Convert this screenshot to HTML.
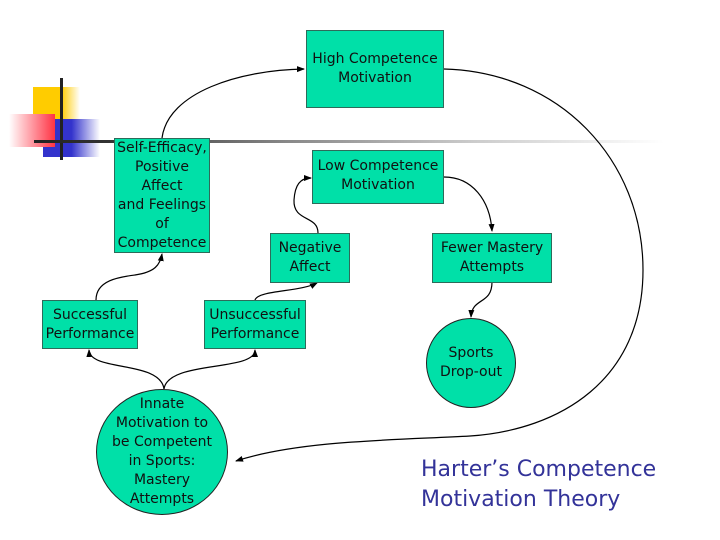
<!DOCTYPE html>
<html><head><meta charset="utf-8"><style>
body{margin:0;width:720px;height:540px;background:#fff;overflow:hidden;position:relative;font-family:"DejaVu Sans","Liberation Sans",sans-serif}
.b{position:absolute;background:#00e0a8;border:1px solid #2d6b5a;box-sizing:border-box;display:flex;align-items:center;justify-content:center;text-align:center;font-size:14px;line-height:19px;color:#111}
.c{border-radius:50%;border-color:#222}
</style></head><body>
<div style="position:absolute;left:33px;top:87px;width:47px;height:32px;background:linear-gradient(90deg,#ffcc00 60%,#fff)"></div>
<div style="position:absolute;left:43px;top:119px;width:57px;height:38px;background:linear-gradient(90deg,#3333cc 50%,#fff)"></div>
<div style="position:absolute;left:9px;top:114px;width:46px;height:33px;background:linear-gradient(90deg,#fff,#ff3344)"></div>
<div style="position:absolute;left:60px;top:78px;width:3px;height:82px;background:#222"></div>
<div style="position:absolute;left:34px;top:140px;width:630px;height:3px;background:linear-gradient(90deg,#222 0%,#333 12%,#888 40%,#ccc 70%,#fff 100%)"></div>
<svg width="720" height="540" style="position:absolute;left:0;top:0">
<defs><marker id="a" markerWidth="8" markerHeight="8" refX="7" refY="4" orient="auto" markerUnits="userSpaceOnUse"><path d="M0,1 L8,4 L0,7z" fill="#000"/></marker></defs>
<g fill="none" stroke="#000" stroke-width="1.2" marker-end="url(#a)">
<path d="M162,138 C168,92 240,70 304,69"/>
<path d="M444,69 C560,72 643,160 643,270 C643,380 560,430 470,436 C400,440 300,440 236,461"/>
<path d="M444,177 C472,177 490,200 492,231"/>
<path d="M318,233 C318,215 293,222 294,200 C295,185 300,178 311,178"/>
<path d="M255,300 C258,290 300,292 317,283"/>
<path d="M96,300 C96,280 120,277 135,275 C155,272 160,265 162,254"/>
<path d="M164,389 C160,360 90,372 89,350"/>
<path d="M164,389 C168,360 255,372 255,350"/>
<path d="M492,282 C492,305 472,297 471,317"/>
</g></svg>
<div class="b" style="left:306px;top:30px;width:138px;height:78px">High Competence<br>Motivation</div>
<div class="b" style="left:114px;top:138px;width:96px;height:115px">Self-Efficacy,<br>Positive Affect<br>and Feelings<br>of<br>Competence</div>
<div class="b" style="left:312px;top:150px;width:132px;height:54px;align-items:flex-start;padding-top:6px">Low Competence<br>Motivation</div>
<div class="b" style="left:270px;top:233px;width:80px;height:50px">Negative<br>Affect</div>
<div class="b" style="left:432px;top:233px;width:120px;height:50px">Fewer Mastery<br>Attempts</div>
<div class="b" style="left:42px;top:300px;width:96px;height:49px">Successful<br>Performance</div>
<div class="b" style="left:204px;top:300px;width:102px;height:49px">Unsuccessful<br>Performance</div>
<div class="b c" style="left:96px;top:389px;width:132px;height:126px">Innate<br>Motivation to<br>be Competent<br>in Sports:<br>Mastery<br>Attempts</div>
<div class="b c" style="left:426px;top:318px;width:90px;height:90px">Sports<br>Drop-out</div>
<div style="position:absolute;left:421px;top:455px;font-size:22px;line-height:30px;color:#333399;font-family:'DejaVu Sans','Liberation Sans',sans-serif">Harter’s Competence<br>Motivation Theory</div>
</body></html>
